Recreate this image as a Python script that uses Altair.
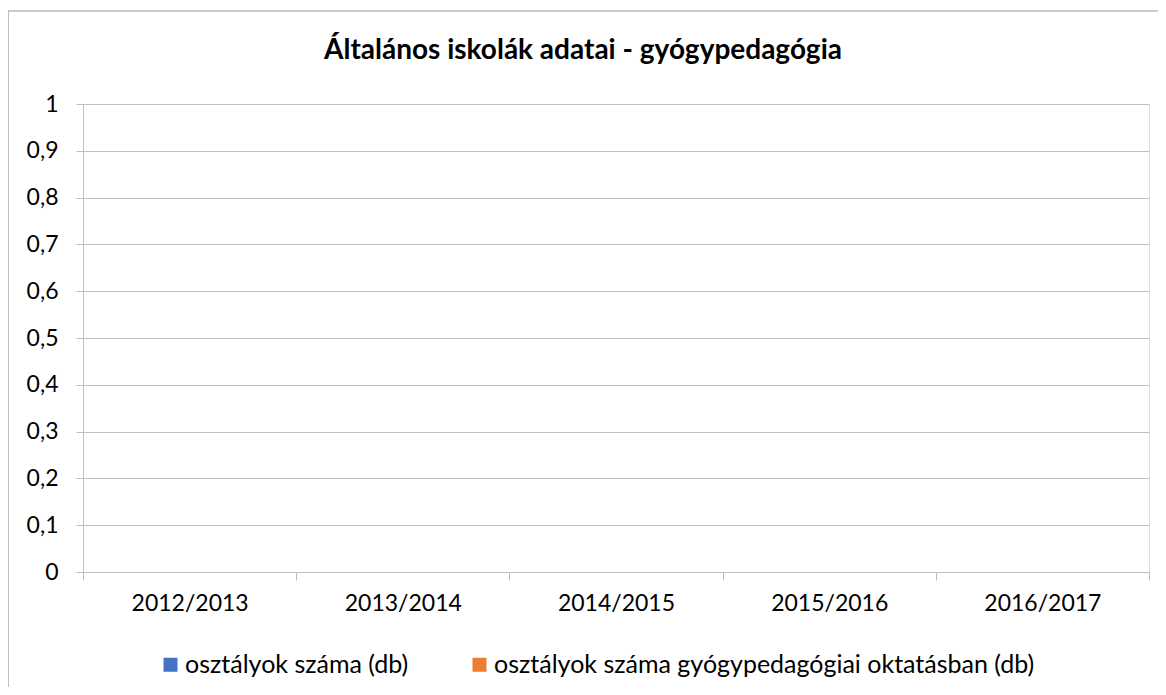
import altair as alt
import pandas as pd

years = ["2012/2013", "2013/2014", "2014/2015", "2015/2016", "2016/2017"]
series = ["osztályok száma (db)", "osztályok száma gyógypedagógiai oktatásban (db)"]
values_osztalyok = [0, 0, 0, 0, 0]
values_gyogyped = [0, 0, 0, 0, 0]
colors = ["#4472C4", "#ED7D31"]
y_ticks = [0, 0.1, 0.2, 0.3, 0.4, 0.5, 0.6, 0.7, 0.8, 0.9, 1]
title_text = "Általános iskolák adatai - gyógypedagógia"

rows = []
for s, vals in zip(series, [values_osztalyok, values_gyogyped]):
    for yr, v in zip(years, vals):
        rows.append({"year": yr, "series": s, "value": v})
df = pd.DataFrame(rows)

FONT = "Lato"
W, H = 1066, 468
GRID = "#bfbfbf"

bars = alt.Chart(df).mark_bar().encode(
    x=alt.X(
        "year:N",
        sort=years,
        scale=alt.Scale(paddingInner=0, paddingOuter=0),
        axis=alt.Axis(
            title=None, labelAngle=0, tickBand="extent", tickSize=8,
            labelPadding=12, labelFontSize=23, labelFont=FONT, labelColor="#000000",
            domainColor=GRID, tickColor=GRID, grid=False,
        ),
    ),
    xOffset=alt.XOffset("series:N", sort=series,
                        scale=alt.Scale(paddingOuter=0.8, paddingInner=0)),
    y=alt.Y(
        "value:Q",
        scale=alt.Scale(domain=[0, 1], nice=False),
        axis=alt.Axis(
            title=None, values=y_ticks, tickSize=7, labelPadding=18,
            labelFontSize=23, labelFont=FONT, labelColor="#000000",
            labelExpr="replace(format(datum.value, '~g'), '.', ',')",
            domainColor=GRID, tickColor=GRID, gridColor=GRID, grid=True,
        ),
    ),
    color=alt.Color(
        "series:N",
        sort=series,
        scale=alt.Scale(domain=series, range=colors),
        legend=alt.Legend(
            title=None, orient="none", legendX=75, legendY=548,
            direction="horizontal", columns=2, columnPadding=58,
            symbolType="square", symbolSize=196, symbolStrokeWidth=0,
            labelFontSize=25, labelFont=FONT, labelColor="#000000",
            labelOffset=2, labelLimit=800,
        ),
    ),
)

border = alt.Chart(pd.DataFrame({"k": [0]})).mark_rect(
    fill=None, stroke="#969696", strokeWidth=1.2
).encode(
    x=alt.value(-75), x2=alt.value(W + 200),
    y=alt.value(-93), y2=alt.value(H + 300),
)

chart = alt.layer(border, bars).properties(
    width=W,
    height=H,
    title=alt.TitleParams(
        title_text, font=FONT, fontSize=28, fontWeight="bold", color="#000000",
        anchor="middle", frame="group", dx=-33, offset=-55,
    ),
    autosize=alt.AutoSizeParams(type="none"),
    padding={"left": 75, "top": 96, "right": 9, "bottom": 115},
).configure_view(stroke=None).configure(background="white")

chart.save("out.html", embed_options={"renderer": "svg", "actions": False})
